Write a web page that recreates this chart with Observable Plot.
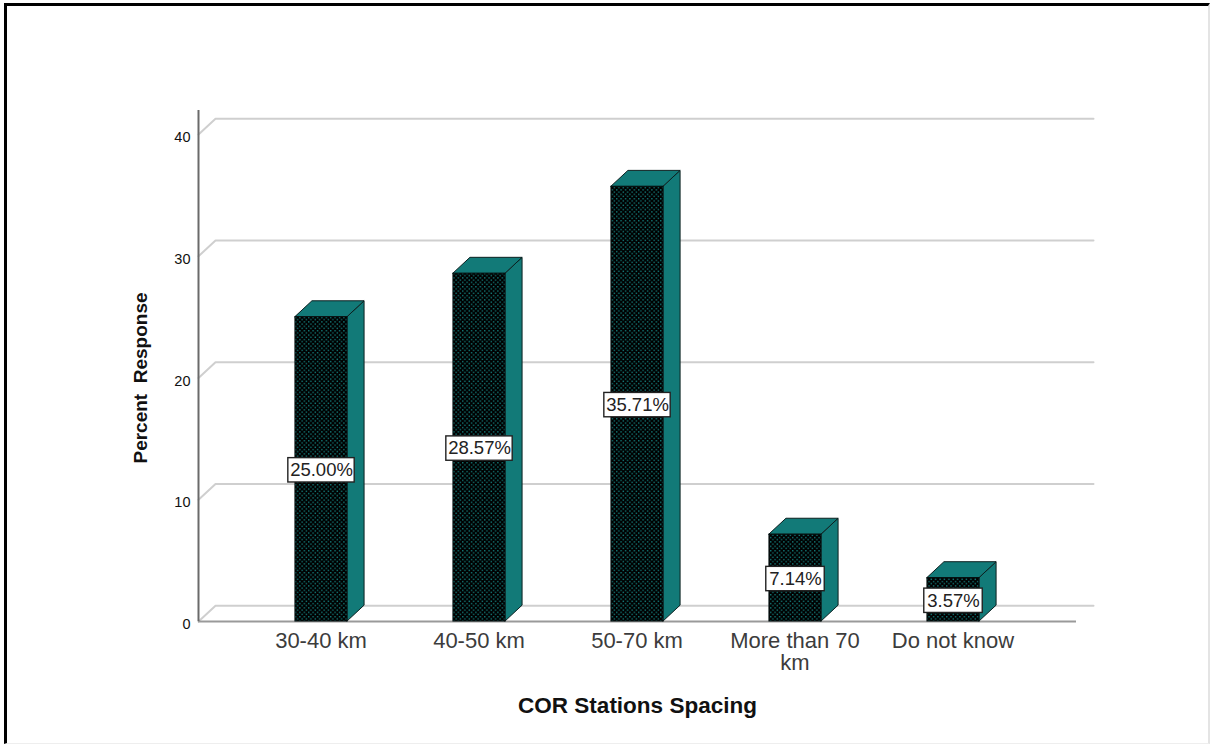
<!DOCTYPE html>
<html><head><meta charset="utf-8">
<script src="https://cdn.jsdelivr.net/npm/d3@7"></script>
<script src="https://cdn.jsdelivr.net/npm/@observablehq/plot@0.6"></script>
<style>
html,body{margin:0;padding:0;background:#fff;overflow:hidden}
#wrap{position:relative;width:1211px;height:744px}
#frame{position:absolute;left:4px;top:3px;right:1px;bottom:0;border-top:3px solid #000;border-left:3px solid #000;border-right:2px solid #e4e4e4;border-bottom:1px solid #eee;box-sizing:border-box;pointer-events:none}
svg{display:block;font-family:"Liberation Sans",Arial,sans-serif}
</style></head><body><div id="wrap"><div id="frame"></div></div>
<script>
const categories = ["30-40 km","40-50 km","50-70 km","More than 70 km","Do not know"];
const percents = [25.00,28.57,35.71,7.14,3.57];
const pctLabels = ["25.00%","28.57%","35.71%","7.14%","3.57%"];
const yTicks = [0,10,20,30,40];
const depthX = 0.1076, depthY = 1.3, halfBar = 0.165;

const bars = categories.map((c,i)=>({i,c,v:percents[i],label:pctLabels[i]}));
const grid = yTicks.flatMap(t=>[
  {t,x:-0.7785,y:t},{t,x:-0.7785+depthX,y:t+depthY},{t,x:4.886,y:t+depthY}
]);
const side = bars.flatMap(b=>[
  {i:b.i,x:b.i+halfBar,y1:0,y2:b.v},
  {i:b.i,x:b.i+halfBar+depthX,y1:depthY,y2:b.v+depthY}
]);
const top_ = bars.flatMap(b=>[
  {i:b.i,y:b.v,x1:b.i-halfBar,x2:b.i+halfBar},
  {i:b.i,y:b.v+depthY,x1:b.i-halfBar+depthX,x2:b.i+halfBar+depthX}
]);
const boxW = l=>l.length*0.025+0.06;

const defsMark = ()=>{
  const g=d3.create("svg:g");
  const p=g.append("defs").append("pattern").attr("id","dots").attr("width",4.4).attr("height",4.4).attr("patternUnits","userSpaceOnUse");
  p.append("rect").attr("width",4.4).attr("height",4.4).attr("fill","#000");
  p.append("rect").attr("x",0).attr("y",0).attr("width",1.4).attr("height",1.4).attr("fill","#137a78");
  p.append("rect").attr("x",2.2).attr("y",2.2).attr("width",1.4).attr("height",1.4).attr("fill","#137a78");
  return g.node();
};

const teal="#127a78", edge="#0c2020";
const chart = Plot.plot({
  width:1211,height:744,
  marginLeft:198,marginRight:118,marginTop:110,marginBottom:123,
  style:{background:"transparent",fontFamily:'"Liberation Sans",Arial,sans-serif',overflow:"visible"},
  x:{domain:[-0.7785,4.886],axis:null},
  y:{domain:[0,41.97],axis:null},
  marks:[
    defsMark,
    Plot.line(grid,{x:"x",y:"y",z:"t",stroke:"#cfcfcf",strokeWidth:2}),
    Plot.ruleY([0],{x1:-0.7785,x2:4.886-depthX,stroke:"#9a9a9a",strokeWidth:2}),
    Plot.ruleX([-0.7785],{y1:0,y2:41.97,stroke:"#6a6a6a",strokeWidth:2}),
    Plot.areaY(side,{x:"x",y1:"y1",y2:"y2",z:"i",fill:teal,stroke:edge,strokeWidth:1}),
    Plot.areaX(top_,{y:"y",x1:"x1",x2:"x2",z:"i",fill:teal,stroke:edge,strokeWidth:1}),
    Plot.rect(bars,{x1:d=>d.i-halfBar,x2:d=>d.i+halfBar,y1:0,y2:"v",fill:"url(#dots)",stroke:"#051010",strokeWidth:1}),
    Plot.rect(bars,{x1:d=>d.i-boxW(d.label),x2:d=>d.i+boxW(d.label),y1:d=>d.v/2-1,y2:d=>d.v/2+1,dy:1,fill:"#fff",stroke:"#222",strokeWidth:1.4}),
    Plot.text(bars,{x:"i",y:d=>d.v/2,dy:1,text:"label",fontSize:18.5,fill:"#222"}),
    Plot.text(yTicks,{x:-0.7785,y:d=>d,text:d=>String(d),textAnchor:"end",dx:-8,dy:3,fontSize:14.5,fill:"#111"}),
    Plot.text(bars,{x:"i",y:0,dx:-0.5,text:"c",lineAnchor:"top",dy:11,lineWidth:7.4,lineHeight:1.0,fontSize:22,fill:"#3c3c3c"}),
    Plot.text(["COR Stations Spacing"],{x:2,y:0,dy:84,text:d=>d,fontSize:22.5,fontWeight:"bold",fill:"#111"}),
    Plot.text(["Percent  Response"],{frameAnchor:"left",y:20,dy:0,dx:-58,rotate:-90,textAnchor:"middle",text:d=>d,fontSize:19,fontWeight:"bold",fill:"#111"})
  ]
});
document.getElementById("wrap").prepend(chart);
</script></body></html>
